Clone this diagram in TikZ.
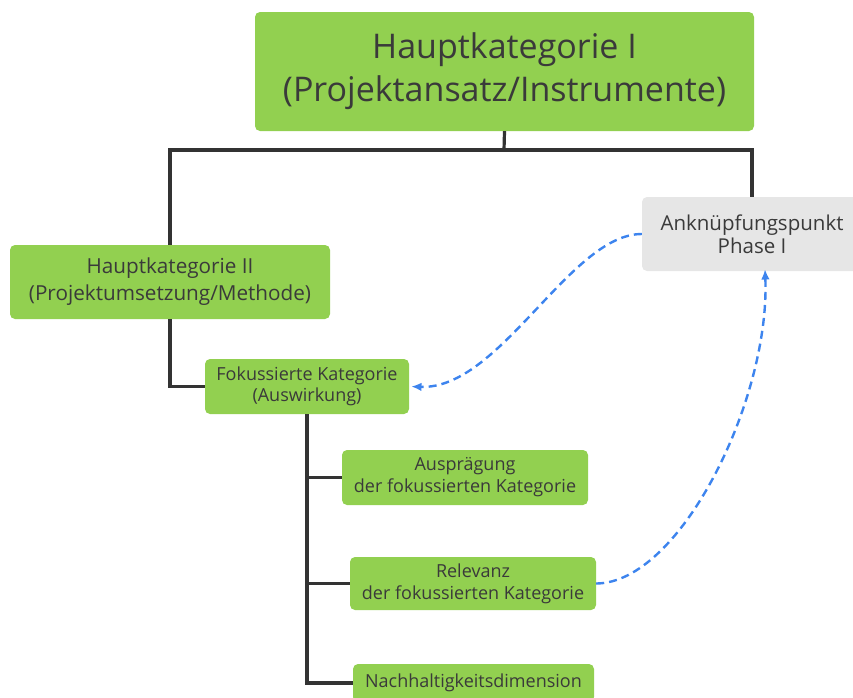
\documentclass[tikz,border=0pt]{standalone}
\usepackage{fontspec}
\setmainfont{Open Sans}
\usepackage{xcolor}
\usepackage{tikz}
\usetikzlibrary{arrows.meta,positioning}

\definecolor{boxgreen}{HTML}{92D050}
\definecolor{boxgray}{HTML}{E6E6E6}
\definecolor{txtgray}{HTML}{3A3A3A}
\definecolor{linkblue}{HTML}{3D84EE}

\begin{document}
\begin{tikzpicture}[
  x=1pt, y=-1pt,
  box/.style={
    fill=boxgreen,
    rounded corners=5pt,
    align=center,
    inner sep=0pt,
    text=txtgray
  },
  tree/.style={line width=3.2pt, draw=black!80},
  arrow/.style={-{Latex[length=3.6mm,width=3mm]}, line width=2.4pt,
    draw=linkblue, dash pattern=on 8pt off 5pt}
]
  \useasboundingbox (0,0) rectangle (853,697);

  \node[box, minimum width=499pt, minimum height=119pt,
    font=\fontsize{34}{43}\selectfont] (hk1) at (504.5,71.5)
    {Hauptkategorie I\\(Projektansatz/Instrumente)};
  \node[box, minimum width=320pt, minimum height=74pt,
    font=\fontsize{20.7}{27}\selectfont] (hk2) at (170,282)
    {Hauptkategorie II\\(Projektumsetzung/Methode)};
  \node[box, fill=boxgray, minimum width=220pt, minimum height=74pt,
    font=\fontsize{20.5}{23}\selectfont] (anchor) at (752,234)
    {Anknüpfungspunkt\\Phase I};
  \node[box, minimum width=204pt, minimum height=55pt,
    font=\fontsize{18}{21}\selectfont] (fok) at (307,386.5)
    {Fokussierte Kategorie\\(Auswirkung)};
  \node[box, minimum width=246pt, minimum height=55pt,
    font=\fontsize{18}{22}\selectfont] (auspr) at (465,477.5)
    {Ausprägung\\der fokussierten Kategorie};
  \node[box, minimum width=246pt, minimum height=53pt,
    font=\fontsize{18}{22}\selectfont] (relev) at (473,583.5)
    {Relevanz\\der fokussierten Kategorie};
  \node[box, minimum width=241pt, minimum height=38pt,
    font=\fontsize{18}{22}\selectfont] (nachh) at (473.5,683)
    {Nachhaltigkeitsdimension};

  % tree connectors
  \coordinate (bus) at (504,150);
  \draw[tree] (hk1.south) -- (bus);
  \draw[tree] (hk2.north) |- (bus) -| (anchor.north);
  \draw[tree] (hk2.south) |- (fok.west);
  \draw[tree] (fok.south) |- (auspr.west);
  \draw[tree] (fok.south) |- (relev.west);
  \draw[tree] (fok.south) |- (nachh.west);

  % links to Phase I
  \draw[arrow] (anchor.west) .. controls (570,234) and (500,390) .. ([xshift=2pt]fok.east);
  \draw[arrow] (relev.east) .. controls (680,583) and (770,400) .. ([xshift=13pt,yshift=2pt]anchor.south);
\end{tikzpicture}
\end{document}
